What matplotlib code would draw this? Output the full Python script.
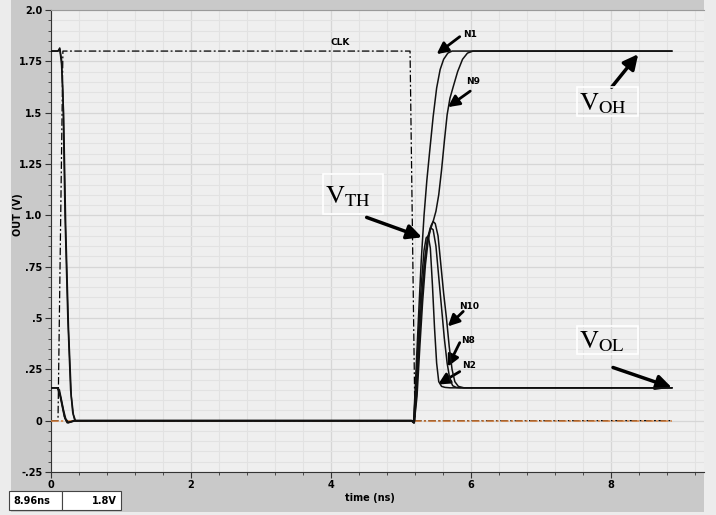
import matplotlib.pyplot as plt
from matplotlib.patches import Rectangle
from matplotlib.ticker import MultipleLocator, FixedLocator

# waveform data (time in ns, voltage in V)
clk_t = [0.0, 0.10, 0.17, 5.13, 5.20, 8.87]
clk_v = [0.0, 0.0, 1.8, 1.8, 0.0, 0.0]

ref_t = [0.0, 8.87]
ref_v = [0.0, 0.0]

n1_t = [0.0, 0.10, 0.125, 0.15, 0.17, 0.20, 0.24, 0.28, 0.31, 0.34, 5.15, 5.18, 5.21, 5.25,
        5.29, 5.33, 5.37, 5.41, 5.46, 5.51, 5.56, 5.61, 5.67, 5.73, 8.87]
n1_v = [1.8, 1.8, 1.815, 1.76, 1.6, 1.0, 0.5, 0.15, 0.04, 0.0, 0.0, -0.01, 0.2, 0.5,
        0.78, 1.0, 1.17, 1.31, 1.48, 1.62, 1.71, 1.76, 1.79, 1.8, 1.8]

n9_t = [0.0, 0.10, 0.125, 0.15, 0.18, 0.21, 0.25, 0.29, 0.32, 0.35, 5.16, 5.19, 5.22, 5.26,
        5.30, 5.34, 5.38, 5.42, 5.46, 5.50, 5.54, 5.58, 5.62, 5.66, 5.70, 5.75, 5.81, 5.88,
        5.95, 6.03, 8.87]
n9_v = [1.8, 1.8, 1.81, 1.74, 1.5, 0.95, 0.45, 0.12, 0.03, 0.0, 0.0, -0.01, 0.15, 0.4,
        0.62, 0.78, 0.88, 0.93, 0.97, 1.02, 1.1, 1.22, 1.36, 1.49, 1.57, 1.63, 1.7, 1.76,
        1.79, 1.8, 1.8]

n2_t = [0.0, 0.09, 0.11, 0.13, 0.16, 0.19, 0.23, 0.28, 0.33, 5.15, 5.18, 5.21, 5.25, 5.29,
        5.33, 5.36, 5.39, 5.42, 5.45, 5.48, 5.51, 5.54, 5.58, 5.63, 5.70, 8.87]
n2_v = [0.16, 0.16, 0.14, 0.12, 0.07, 0.02, -0.01, -0.005, 0.0, 0.0, -0.01, 0.15, 0.42, 0.66,
        0.83, 0.89, 0.9, 0.84, 0.66, 0.45, 0.28, 0.19, 0.167, 0.162, 0.16, 0.16]

n8_t = [0.0, 0.09, 0.11, 0.14, 0.17, 0.20, 0.24, 0.29, 0.34, 5.15, 5.19, 5.22, 5.26, 5.30,
        5.34, 5.38, 5.42, 5.46, 5.50, 5.54, 5.58, 5.62, 5.66, 5.70, 5.74, 5.79, 5.85, 8.87]
n8_v = [0.16, 0.16, 0.15, 0.11, 0.06, 0.01, -0.01, -0.005, 0.0, 0.0, -0.01, 0.12, 0.38, 0.6,
        0.78, 0.89, 0.94, 0.93, 0.85, 0.7, 0.55, 0.4, 0.28, 0.2, 0.17, 0.162, 0.16, 0.16]

n10_t = [0.0, 0.09, 0.12, 0.15, 0.18, 0.21, 0.25, 0.30, 0.35, 5.16, 5.19, 5.23, 5.27, 5.31,
         5.35, 5.39, 5.43, 5.46, 5.49, 5.53, 5.57, 5.61, 5.65, 5.69, 5.73, 5.77, 5.82, 5.90, 8.87]
n10_v = [0.16, 0.16, 0.15, 0.1, 0.05, 0.01, -0.01, -0.005, 0.0, 0.0, -0.01, 0.12, 0.36, 0.58,
         0.76, 0.88, 0.95, 0.97, 0.96, 0.9, 0.76, 0.62, 0.5, 0.36, 0.25, 0.19, 0.167, 0.16, 0.16]

y_ticks = [-0.25, 0.0, 0.25, 0.5, 0.75, 1.0, 1.25, 1.5, 1.75, 2.0]
y_tick_labels = ["-.25", "0", ".25", ".5", ".75", "1.0", "1.25", "1.5", "1.75", "2.0"]
x_ticks = [0, 2, 4, 6, 8]
x_tick_labels = ["0", "2", "4", "6", "8"]

# node labels: (text, text pos, arrow tail, arrow tip)
node_notes = [
    ("N1", (5.99, 1.88), (5.84, 1.87), (5.51, 1.785)),
    ("N9", (6.03, 1.65), (5.99, 1.605), (5.67, 1.527)),
    ("N10", (5.97, 0.556), (5.89, 0.532), (5.67, 0.459)),
    ("N8", (5.96, 0.39), (5.84, 0.38), (5.67, 0.263)),
    ("N2", (5.97, 0.268), (5.84, 0.239), (5.53, 0.176)),
]
# big labels: (mathtext, box lower-left, box size, arrow tail, arrow tip)
level_notes = [
    (r"$\mathrm{V_{TH}}$", (3.89, 1.005), (0.86, 0.195), (4.51, 0.99), (5.30, 0.893)),
    (r"$\mathrm{V_{OH}}$", (7.51, 1.483), (0.87, 0.141), (8.01, 1.624), (8.39, 1.785)),
    (r"$\mathrm{V_{OL}}$", (7.51, 0.327), (0.87, 0.136), (8.03, 0.259), (8.87, 0.161)),
]

plt.rcParams["mathtext.fontset"] = "stix"
W, H = 716, 515
fig = plt.figure(figsize=(W / 100, H / 100), dpi=100, facecolor="#ececec")
fig.add_artist(Rectangle((11 / W, 3 / H), 693 / W, 1 - 3 / H, transform=fig.transFigure,
                         facecolor="#c9c9c9", edgecolor="none", zorder=0))
ax = fig.add_axes([51 / W, 1 - 472 / H, 653 / W, 462 / H])
ax.set_facecolor("#efefef")

ax.plot(clk_t, clk_v, color="black", lw=0.9, dashes=(6, 2, 1.5, 2), zorder=2)
ax.plot(ref_t, ref_v, color="#d9803c", lw=1.1, dashes=(5, 1.5, 1.5, 1.5), zorder=3)
for t, v in [(n1_t, n1_v), (n9_t, n9_v), (n2_t, n2_v), (n8_t, n8_v), (n10_t, n10_v)]:
    ax.plot(t, v, color="#111111", lw=1.1, zorder=4)

ax.set_xlim(0, 9.33)
ax.set_ylim(-0.25, 2.0)
ax.xaxis.set_major_locator(FixedLocator(x_ticks))
ax.xaxis.set_minor_locator(MultipleLocator(0.4))
ax.yaxis.set_major_locator(FixedLocator(y_ticks))
ax.yaxis.set_minor_locator(MultipleLocator(0.05))
ax.set_xticklabels(x_tick_labels, fontsize=7, fontweight="bold")
ax.set_yticklabels(y_tick_labels, fontsize=7, fontweight="bold")
ax.grid(which="minor", color="#e2e2e2", lw=0.8)
ax.grid(which="major", color="#d6d6d6", lw=0.9)
ax.set_axisbelow(True)
ax.tick_params(which="major", direction="out", length=4, width=0.8, color="#333333", pad=2)
ax.tick_params(which="minor", direction="out", length=2, width=0.6, color="#333333")
ax.spines["right"].set_visible(False)
ax.spines["top"].set_color("#9a9a9a")
ax.spines["left"].set_color("#333333")
ax.spines["bottom"].set_color("#333333")

ax.text(4.13, 1.844, "CLK", fontsize=6.5, fontweight="bold", ha="center", va="center")
for label, pos, tail, tip in node_notes:
    ax.text(pos[0], pos[1], label, fontsize=6.5, fontweight="bold", ha="center", va="center")
    ax.annotate("", xy=tip, xytext=tail,
                arrowprops=dict(arrowstyle="-|>", color="black", lw=2, mutation_scale=17,
                                shrinkA=0, shrinkB=0))
for label, corner, size, tail, tip in level_notes:
    ax.add_patch(Rectangle(corner, size[0], size[1], facecolor="none", edgecolor="white",
                           lw=1.2, zorder=5))
    ax.text(corner[0] + 0.03, corner[1] + size[1] * 0.45, label, fontsize=19,
            ha="left", va="center", zorder=6)
    ax.annotate("", xy=tip, xytext=tail,
                arrowprops=dict(arrowstyle="-|>", color="black", lw=2.5, mutation_scale=22,
                                shrinkA=0, shrinkB=0))

fig.text(18 / W, 1 - 215 / H, "OUT (V)", rotation=90, fontsize=7, fontweight="bold",
         ha="center", va="center")
fig.text(370 / W, 1 - 498 / H, "time (ns)", fontsize=7, fontweight="bold",
         ha="center", va="center")

# cursor readout boxes
fig.add_artist(Rectangle((9 / W, 1 - 510 / H), 53 / W, 19 / H, transform=fig.transFigure,
                         facecolor="white", edgecolor="#444444", lw=0.8))
fig.add_artist(Rectangle((62 / W, 1 - 510 / H), 59 / W, 19 / H, transform=fig.transFigure,
                         facecolor="white", edgecolor="#444444", lw=0.8))
fig.text(13 / W, 1 - 501 / H, "8.96ns", fontsize=7, fontweight="bold", ha="left", va="center")
fig.text(117 / W, 1 - 501 / H, "1.8V", fontsize=7, fontweight="bold", ha="right", va="center")

fig.savefig("out.png", dpi=100, facecolor=fig.get_facecolor())
